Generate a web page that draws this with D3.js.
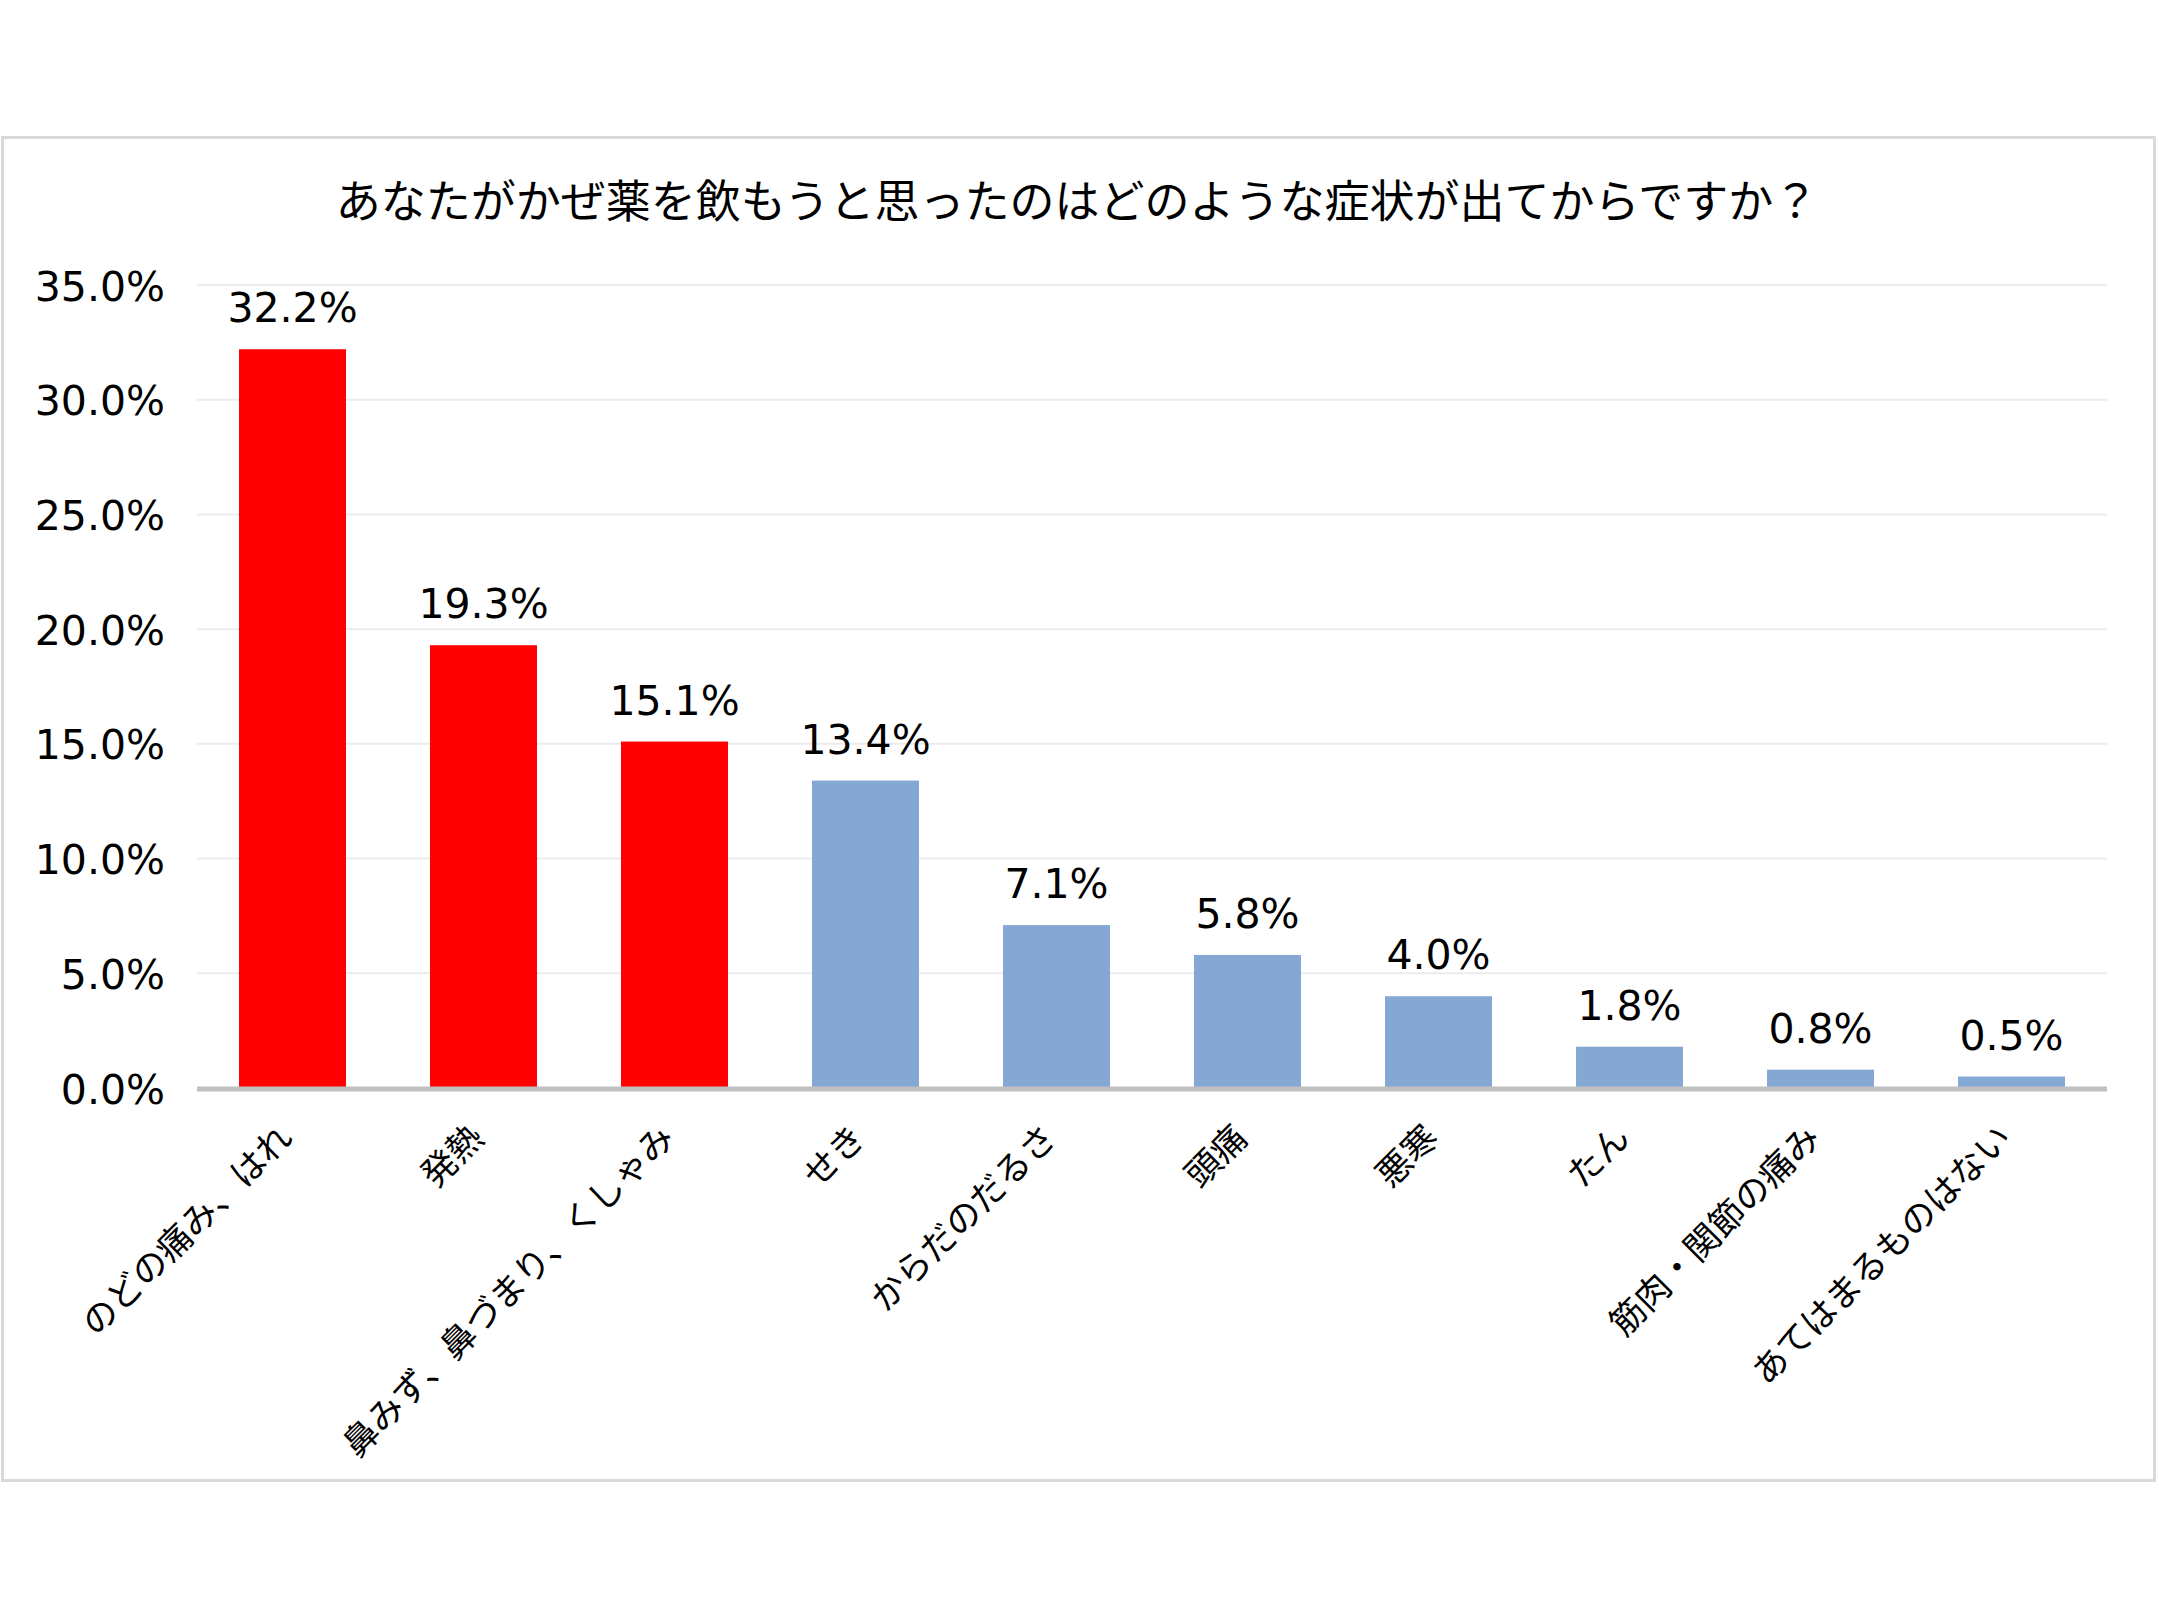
<!DOCTYPE html>
<html>
<head>
<meta charset="utf-8">
<script src="https://cdn.jsdelivr.net/npm/d3@7"></script>
<style>
html,body{margin:0;padding:0;background:#fff;}
svg{display:block;}
text{font-family:"Noto Sans CJK JP","Noto Sans",sans-serif;fill:#000;}
text.num{font-family:"DejaVu Sans","Noto Sans CJK JP",sans-serif;}
</style>
</head>
<body>
<script>
const title = "あなたがかぜ薬を飲もうと思ったのはどのような症状が出てからですか？";
const categories = ["のどの痛み、はれ","発熱","鼻みず、鼻づまり、くしゃみ","せき","からだのだるさ","頭痛","悪寒","たん","筋肉・関節の痛み","あてはまるものはない"];
const values = [32.2,19.3,15.1,13.4,7.1,5.8,4.0,1.8,0.8,0.5];
const highlighted = [true,true,true,false,false,false,false,false,false,false];
const yTicks = [0,5,10,15,20,25,30,35];

const W = 2159, H = 1619;
const svg = d3.select("body").append("svg").attr("width",W).attr("height",H);

// frame
svg.append("rect").attr("x",2.5).attr("y",137.5).attr("width",2152).attr("height",1343)
  .attr("fill","#fff").attr("stroke","#d9d9d9").attr("stroke-width",3);

const x = d3.scaleBand().domain(categories).range([197,2107]).paddingInner(0.44).paddingOuter(0.22);
const y = d3.scaleLinear().domain([0,35]).range([1088,285]);

// title
svg.append("text").attr("x",1077).attr("y",198).attr("text-anchor","middle")
  .attr("dominant-baseline","central").style("font-size","45px").text(title);

// gridlines
svg.append("g").selectAll("line").data(yTicks.filter(t=>t>0)).join("line")
  .attr("x1",197).attr("x2",2107).attr("y1",d=>y(d)).attr("y2",d=>y(d))
  .attr("stroke","#ebebeb").attr("stroke-width",2);

// y axis labels
const yAxis = d3.axisLeft(y).tickValues(yTicks).tickFormat(d=>d.toFixed(1)+"%").tickSize(0).tickPadding(0);
const gy = svg.append("g").attr("transform","translate(165,2)").call(yAxis);
gy.select(".domain").remove();
gy.selectAll("text").attr("class","num").style("font-size","41px").attr("fill","#000").attr("font-family",null);

// bars
svg.append("g").selectAll("rect").data(values).join("rect")
  .attr("x",(d,i)=>x(categories[i])).attr("width",x.bandwidth())
  .attr("y",d=>y(d)).attr("height",d=>y(0)-y(d))
  .attr("fill",(d,i)=>highlighted[i]?"#ff0000":"#85a7d4");

// value labels
svg.append("g").selectAll("text").data(values).join("text")
  .attr("class","num")
  .attr("x",(d,i)=>x(categories[i])+x.bandwidth()/2).attr("y",d=>y(d)-27)
  .attr("text-anchor","middle").style("font-size","41px")
  .text(d=>d.toFixed(1)+"%");

// baseline axis
svg.append("line").attr("x1",197).attr("x2",2107).attr("y1",y(0)+1).attr("y2",y(0)+1)
  .attr("stroke","#bfbfbf").attr("stroke-width",5);

// x labels
svg.append("g").selectAll("text").data(categories).join("text")
  .attr("transform",d=>`translate(${x(d)+x.bandwidth()/2+2},1140) rotate(-45)`)
  .attr("text-anchor","end").style("font-size","35px").text(d=>d);
</script>
</body>
</html>
